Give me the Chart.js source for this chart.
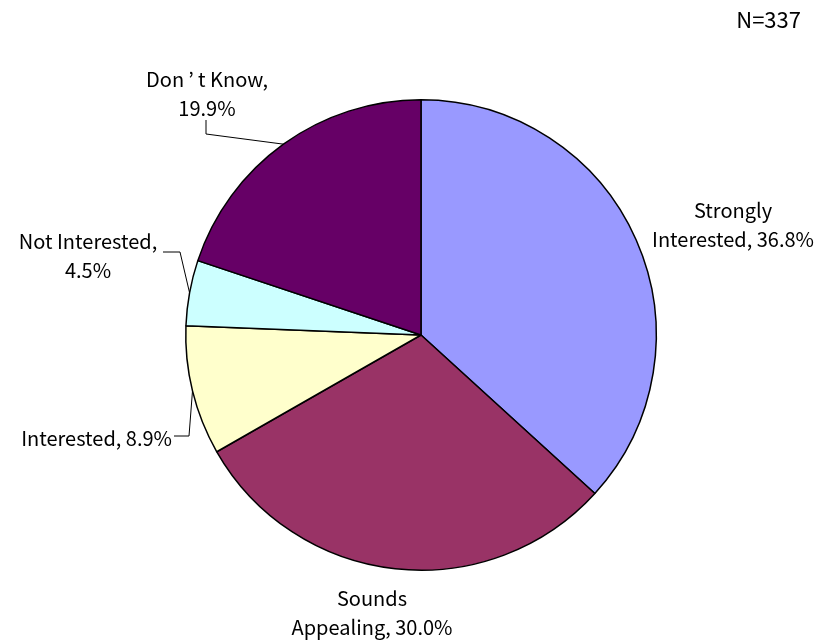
<!DOCTYPE html>
<html>
<head>
<meta charset="utf-8">
<script src="https://cdn.jsdelivr.net/npm/chart.js@4/dist/chart.umd.min.js"></script>
<style>
  html, body { margin: 0; padding: 0; background: #fff; }
  #wrap { width: 818px; height: 640px; }
</style>
</head>
<body>
<div id="wrap"><canvas id="grafica" width="818" height="640"></canvas></div>
<script>
// Datos
const categorias = ['Strongly Interested', 'Sounds Appealing', 'Interested', 'Not Interested', 'Don\u2019t Know']
const porcentajes = [36.8, 30.0, 8.9, 4.5, 19.9]
const colores = ['#9999FF', '#993366', '#FFFFCC', '#CCFFFF', '#660066']
const totalN = 'N=337'

const familia = '"Noto Sans CJK JP", "Noto Sans", sans-serif'
const tamEtiqueta = 20

// Posición de cada etiqueta (centro del texto) y codo de la línea guía
const etiquetas = [
  { x: 733, y: 210, corte: 'palabra', align: 'center', guia: null },
  { x: 372, y: 598, corte: 'palabra', align: 'center', guia: null },
  { x: 172, y: 438, corte: 'ninguno', align: 'right', guia: [[174, 436], [189, 436]] },
  { x: 88, y: 241, corte: 'valor', align: 'center', guia: [[163, 252], [180, 252]] },
  { x: 207, y: 79, corte: 'valor', align: 'center', guia: [[206, 120], [206, 134]] }
]

function lineasTexto(i) {
  const cat = categorias[i]
  const val = porcentajes[i].toFixed(1) + '%'
  const modo = etiquetas[i].corte
  if (modo === 'palabra') {
    const p = cat.indexOf(' ')
    return [cat.slice(0, p), cat.slice(p + 1) + ', ' + val]
  }
  if (modo === 'valor') return [cat + ',', val]
  return [cat + ', ' + val]
}

// el apóstrofo va en ancho completo, como en la fuente original
function dibujarTexto(ctx, texto, x, y, align, tam) {
  const partes = texto.split('\u2019')
  const anchoApo = tam * 0.7
  const anchos = partes.map(p => ctx.measureText(p).width)
  const total = anchos.reduce((s, w) => s + w, 0) + anchoApo * (partes.length - 1)
  let cx = align === 'center' ? x - total / 2 : align === 'right' ? x - total : x
  ctx.textAlign = 'left'
  partes.forEach((p, k) => {
    ctx.fillText(p, cx, y)
    cx += anchos[k]
    if (k < partes.length - 1) {
      const w = ctx.measureText('\u2019').width
      ctx.fillText('\u2019', cx + (anchoApo - w) / 2, y)
      cx += anchoApo
    }
  })
}

const etiquetasPlugin = {
  id: 'etiquetasPie',
  afterDraw(chart) {
    const ctx = chart.ctx
    const meta = chart.getDatasetMeta(0)
    ctx.save()
    ctx.font = tamEtiqueta + 'px ' + familia
    ctx.fillStyle = '#000'
    ctx.textBaseline = 'middle'

    meta.data.forEach((arc, i) => {
      const e = etiquetas[i]
      lineasTexto(i).forEach((t, k) => dibujarTexto(ctx, t, e.x, e.y + k * 29, e.align, tamEtiqueta))

      if (e.guia) {
        const a = (arc.startAngle + arc.endAngle) / 2
        const bx = arc.x + Math.cos(a) * arc.outerRadius
        const by = arc.y + Math.sin(a) * arc.outerRadius
        ctx.beginPath()
        ctx.strokeStyle = '#000'
        ctx.lineWidth = 1
        ctx.moveTo(e.guia[0][0], e.guia[0][1])
        e.guia.slice(1).forEach(p => ctx.lineTo(p[0], p[1]))
        ctx.lineTo(bx, by)
        ctx.stroke()
      }
    })

    ctx.font = '22px ' + familia
    ctx.textAlign = 'right'
    ctx.fillText(totalN, 801, 20)
    ctx.restore()
  }
}

new Chart(document.getElementById('grafica'), {
  type: 'pie',
  data: {
    labels: categorias,
    datasets: [{
      data: porcentajes,
      backgroundColor: colores,
      borderColor: '#000',
      borderWidth: 1.5
    }]
  },
  options: {
    responsive: false,
    animation: false,
    layout: { padding: { left: 185, right: 161, top: 99, bottom: 69 } },
    plugins: {
      legend: { display: false },
      tooltip: { enabled: false }
    }
  },
  plugins: [etiquetasPlugin]
})
</script>
</body>
</html>
